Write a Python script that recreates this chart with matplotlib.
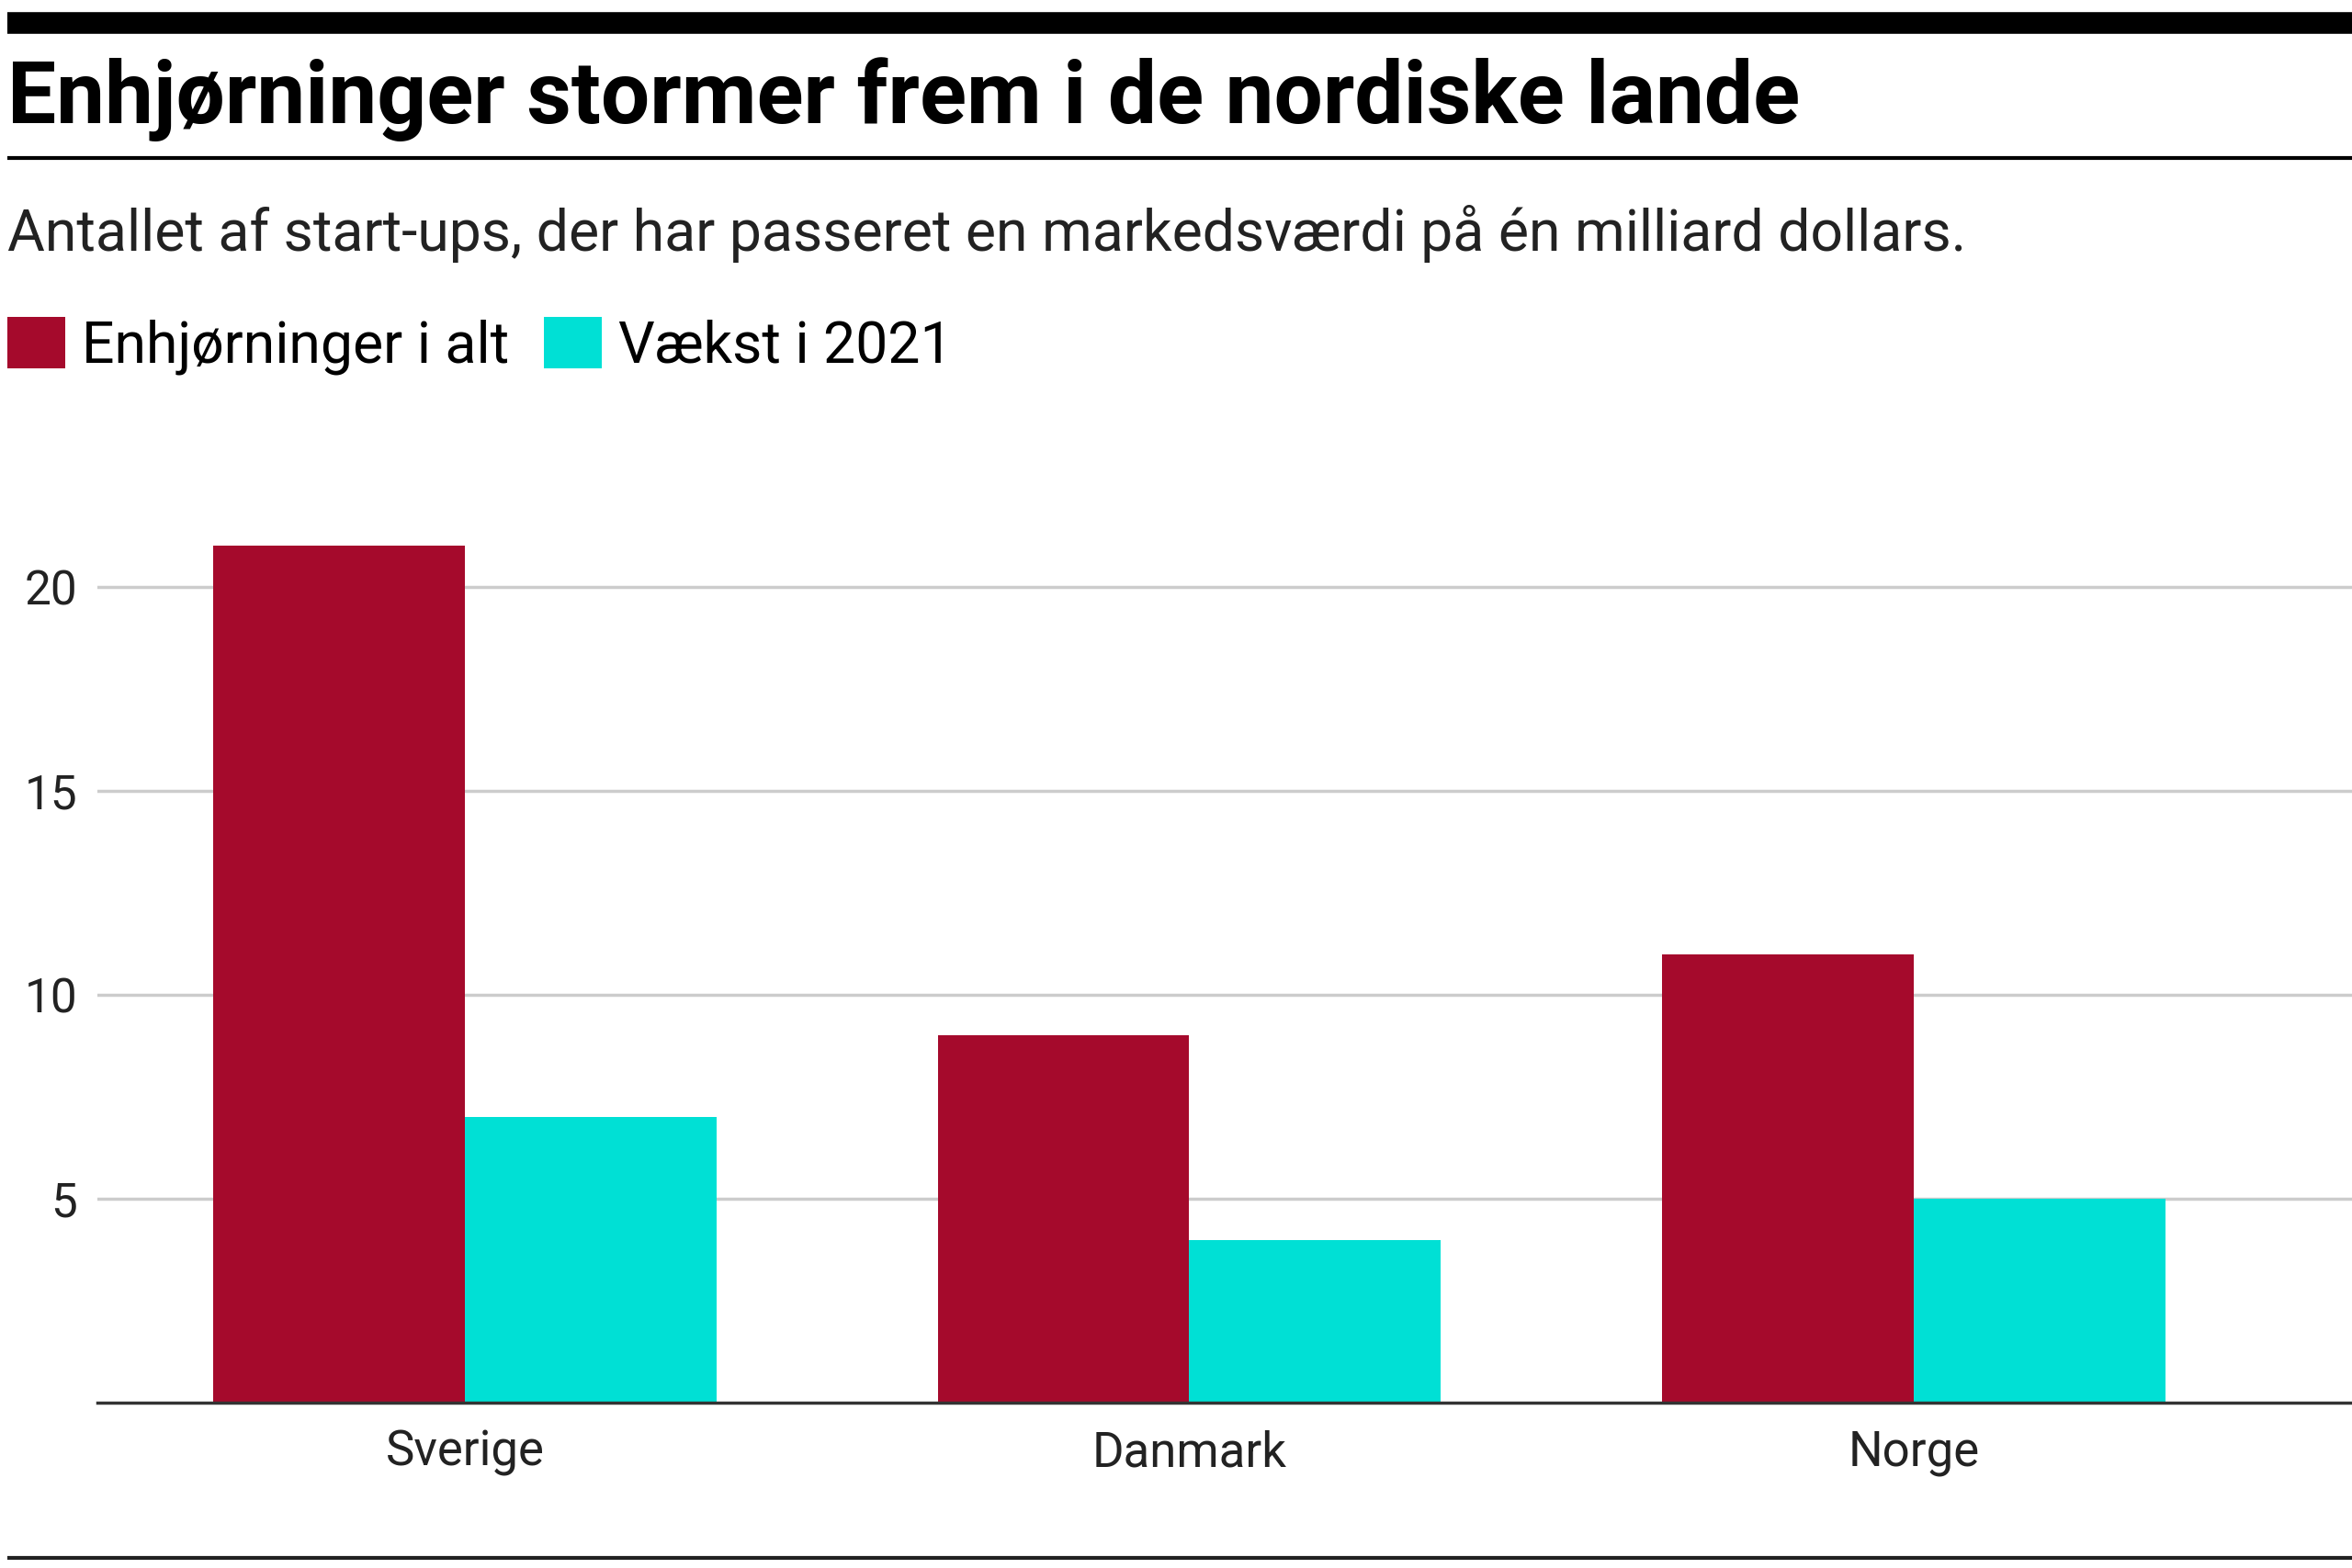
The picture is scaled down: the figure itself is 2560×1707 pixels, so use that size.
import matplotlib
matplotlib.use("Agg")
from matplotlib import pyplot as plt
from matplotlib.lines import Line2D
import numpy as np

countries = ["Sverige", "Danmark", "Norge"]
total = [21, 9, 11]
growth_2021 = [7, 4, 5]
series_labels = ["Enhjørninger i alt", "Vækst i 2021"]
yticks = [5, 10, 15, 20]

title = "Enhjørninger stormer frem i de nordiske lande"
subtitle = "Antallet af start-ups, der har passeret en markedsværdi på én milliard dollars."

red = "#A50A2C"
cyan = "#00E0D5"

plt.rcParams['font.family'] = ['Roboto', 'DejaVu Sans']

W, H = 1568, 1045  # layout measured on the reference at this scale
fig = plt.figure(figsize=(25.6, 17.07), dpi=100)

def fx(x):
    return x / W

def fy(y):
    return 1 - y / H

# rules
fig.add_artist(Line2D([fx(5), 1], [fy(15), fy(15)], color="black", lw=17, solid_capstyle="butt"))
fig.add_artist(Line2D([fx(5), 1], [fy(105), fy(105)], color="black", lw=3, solid_capstyle="butt"))
fig.add_artist(Line2D([fx(5), 1], [fy(1038), fy(1038)], color="#222222", lw=3, solid_capstyle="butt"))

fig.text(fx(5), fy(82), title, fontsize=68, fontweight="bold", ha="left", va="baseline")
fig.text(fx(5), fy(167), subtitle, fontsize=45, ha="left", va="baseline", color="#222222")

ax = fig.add_axes([fx(65), fy(935), 1 - fx(65), fy(336.6) - fy(935)])
x = np.arange(len(countries))
w = 0.347
b1 = ax.bar(x - w / 2, total, w, color=red, label=series_labels[0], zorder=2)
b2 = ax.bar(x + w / 2, growth_2021, w, color=cyan, label=series_labels[1], zorder=2)

ax.set_xlim(-0.507, 2.605)
ax.set_ylim(0, 22)
ax.set_yticks(yticks)
ax.set_yticklabels([str(v) for v in yticks])
ax.set_xticks(x)
ax.set_xticklabels(countries)
ax.tick_params(axis="y", length=0, labelsize=37, pad=16, labelcolor="#222222")
ax.tick_params(axis="x", length=0, labelsize=38, pad=21, labelcolor="#222222")
ax.grid(axis="y", color="#cccccc", lw=2.5, zorder=0)
for s in ["top", "right", "left"]:
    ax.spines[s].set_visible(False)
ax.spines["bottom"].set_color("#333333")
ax.spines["bottom"].set_linewidth(2.5)
ax.spines["bottom"].set_zorder(3)

fig.legend(handles=[b1, b2], labels=series_labels, loc="upper left",
           bbox_to_anchor=(fx(5), fy(211)), ncol=2, frameon=False,
           fontsize=45, handlelength=1.0, handleheight=1.0,
           handletextpad=0.3, columnspacing=0.6, borderpad=0, borderaxespad=0)

fig.savefig("out.png", dpi=100)
